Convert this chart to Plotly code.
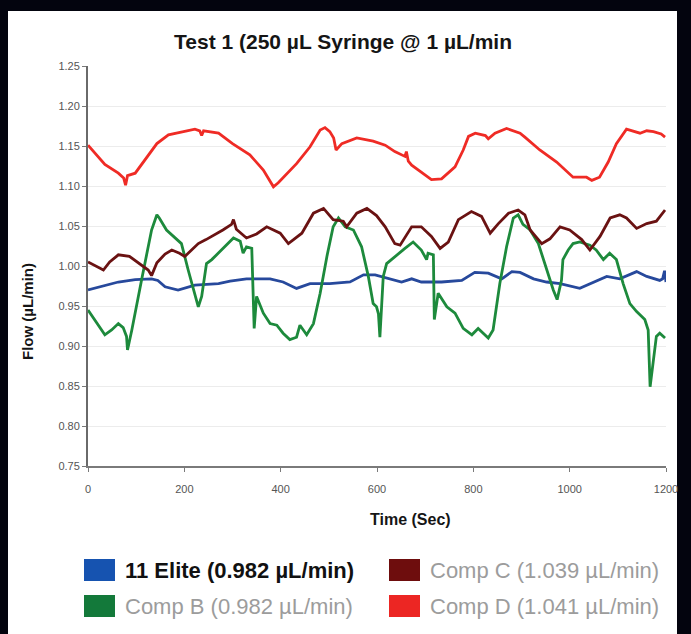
import plotly.graph_objects as go

# ---------------- data ----------------
t_red = [0, 15, 35, 63, 74, 78, 82, 98, 118, 143, 167, 200, 222, 232, 236, 240, 271, 300, 336, 364, 385, 395, 433, 461, 482, 492, 502, 510, 515, 527, 558, 592, 617, 637, 658, 661, 665, 672, 713, 734, 762, 779, 790, 804, 825, 831, 845, 869, 897, 907, 938, 973, 1007, 1035, 1046, 1062, 1080, 1097, 1118, 1146, 1160, 1174, 1190, 1198]
v_red = [1.151, 1.141, 1.127, 1.116, 1.110, 1.101, 1.113, 1.116, 1.132, 1.153, 1.164, 1.168, 1.171, 1.169, 1.163, 1.169, 1.166, 1.153, 1.139, 1.120, 1.099, 1.104, 1.128, 1.149, 1.170, 1.173, 1.168, 1.160, 1.145, 1.153, 1.160, 1.156, 1.151, 1.143, 1.137, 1.143, 1.131, 1.126, 1.108, 1.109, 1.124, 1.145, 1.162, 1.166, 1.163, 1.159, 1.166, 1.172, 1.166, 1.161, 1.145, 1.130, 1.111, 1.111, 1.107, 1.111, 1.130, 1.153, 1.171, 1.166, 1.169, 1.168, 1.165, 1.161]

t_brown = [0, 15, 32, 45, 63, 86, 100, 115, 125, 132, 138, 143, 160, 174, 190, 201, 215, 229, 245, 257, 280, 298, 302, 308, 329, 350, 371, 399, 416, 444, 468, 489, 509, 530, 537, 558, 579, 599, 617, 637, 648, 672, 692, 713, 731, 748, 769, 796, 817, 835, 852, 873, 893, 907, 918, 942, 959, 980, 1000, 1025, 1042, 1063, 1084, 1104, 1118, 1139, 1160, 1180, 1198]
v_brown = [1.005, 1.000, 0.995, 1.005, 1.014, 1.012, 1.006, 0.999, 0.995, 0.988, 0.998, 1.004, 1.015, 1.020, 1.016, 1.012, 1.020, 1.028, 1.033, 1.037, 1.045, 1.052, 1.058, 1.046, 1.035, 1.040, 1.049, 1.041, 1.028, 1.041, 1.066, 1.072, 1.058, 1.056, 1.049, 1.066, 1.072, 1.063, 1.049, 1.028, 1.026, 1.049, 1.049, 1.037, 1.022, 1.030, 1.058, 1.068, 1.062, 1.041, 1.053, 1.066, 1.070, 1.064, 1.045, 1.028, 1.034, 1.049, 1.045, 1.033, 1.020, 1.037, 1.060, 1.064, 1.060, 1.047, 1.053, 1.056, 1.070]

t_blue = [0, 20, 35, 63, 98, 132, 145, 160, 187, 205, 222, 271, 295, 329, 378, 405, 433, 461, 502, 544, 572, 596, 624, 651, 672, 692, 734, 776, 803, 831, 859, 880, 897, 925, 952, 980, 1021, 1049, 1077, 1104, 1139, 1160, 1187, 1193, 1197, 1200]
v_blue = [0.970, 0.973, 0.976, 0.980, 0.983, 0.984, 0.982, 0.974, 0.970, 0.973, 0.976, 0.978, 0.981, 0.984, 0.984, 0.980, 0.972, 0.978, 0.978, 0.980, 0.989, 0.989, 0.984, 0.980, 0.984, 0.980, 0.980, 0.982, 0.992, 0.991, 0.984, 0.993, 0.992, 0.984, 0.980, 0.978, 0.972, 0.980, 0.987, 0.984, 0.993, 0.987, 0.982, 0.984, 0.994, 0.980]

t_green = [0, 14, 35, 49, 63, 73, 80, 82, 86, 91, 111, 132, 143, 148, 163, 177, 194, 208, 222, 229, 236, 246, 257, 284, 302, 316, 322, 329, 340, 345, 350, 364, 378, 392, 405, 419, 433, 440, 454, 468, 482, 496, 509, 520, 534, 551, 568, 582, 592, 599, 603, 606, 613, 620, 637, 658, 675, 692, 703, 706, 717, 719, 727, 745, 762, 779, 797, 810, 831, 841, 855, 869, 883, 893, 903, 918, 935, 952, 966, 974, 983, 986, 997, 1007, 1021, 1042, 1055, 1070, 1083, 1097, 1111, 1125, 1139, 1156, 1163, 1167, 1174, 1180, 1187, 1198]
v_green = [0.945, 0.933, 0.914, 0.920, 0.928, 0.923, 0.912, 0.895, 0.905, 0.920, 0.982, 1.045, 1.064, 1.060, 1.045, 1.037, 1.028, 0.995, 0.966, 0.949, 0.962, 1.003, 1.008, 1.024, 1.035, 1.031, 1.016, 1.024, 1.022, 0.922, 0.962, 0.941, 0.928, 0.926, 0.916, 0.908, 0.911, 0.926, 0.914, 0.928, 0.966, 1.012, 1.049, 1.060, 1.049, 1.045, 1.024, 0.987, 0.953, 0.949, 0.940, 0.911, 0.987, 1.003, 1.012, 1.022, 1.030, 1.020, 1.008, 1.016, 1.014, 0.933, 0.966, 0.949, 0.941, 0.922, 0.914, 0.922, 0.910, 0.920, 0.978, 1.024, 1.060, 1.064, 1.052, 1.045, 1.028, 0.995, 0.970, 0.958, 0.982, 1.008, 1.020, 1.028, 1.030, 1.026, 1.020, 1.008, 1.016, 1.008, 0.978, 0.953, 0.943, 0.933, 0.920, 0.849, 0.887, 0.912, 0.916, 0.910]

x_ticks = [0, 200, 400, 600, 800, 1000, 1200]
y_ticks = [0.75, 0.80, 0.85, 0.90, 0.95, 1.00, 1.05, 1.10, 1.15, 1.20, 1.25]

title_text = "Test 1 (250 µL Syringe @ 1 µL/min"
x_title = "Time (Sec)"
y_title = "Flow (µL/min)"
legend_names = ["11 Elite (0.982 µL/min)", "Comp C (1.039 µL/min)",
                "Comp B (0.982 µL/min)", "Comp D (1.041 µL/min)"]

# ---------------- styling ----------------
W, H = 691, 634
L, R, T, B = 88, 25, 66, 168
PW, PH = W - L - R, H - T - B

def px_x(p):
    return (p - L) / PW

def px_y(p):
    return (H - B - p) / PH

FONT = "Liberation Sans, Arial, sans-serif"
BG = "#03040e"
c_blue, c_brown, c_green, c_red = "#27499c", "#6a1212", "#1d8a3c", "#ef2b25"
lg_blue, lg_brown, lg_green, lg_red = "#1653b0", "#6e0d0d", "#13793a", "#ec2623"

fig = go.Figure()
for tt, vv, col, nm in [(t_blue, v_blue, c_blue, legend_names[0]),
                        (t_green, v_green, c_green, legend_names[2]),
                        (t_brown, v_brown, c_brown, legend_names[1]),
                        (t_red, v_red, c_red, legend_names[3])]:
    fig.add_trace(go.Scatter(x=tt, y=vv, mode="lines", name=nm,
                             line=dict(color=col, width=2.8), showlegend=False,
                             hoverinfo="skip"))

shapes = [dict(type="rect", xref="paper", yref="paper",
               x0=px_x(8), x1=px_x(677), y0=px_y(640), y1=px_y(11),
               fillcolor="white", line=dict(width=0), layer="below")]

annotations = [
    dict(text="<b>" + title_text + "</b>", x=px_x(343), y=px_y(42), xref="paper", yref="paper",
         showarrow=False, font=dict(family=FONT, size=21, color="#151515"),
         xanchor="center", yanchor="middle"),
    dict(text="<b>" + x_title + "</b>", x=px_x(410), y=px_y(519), xref="paper", yref="paper",
         showarrow=False, font=dict(family=FONT, size=16, color="#151515"),
         xanchor="center", yanchor="middle"),
    dict(text="<b>" + y_title + "</b>", x=px_x(27), y=px_y(312), xref="paper", yref="paper",
         showarrow=False, textangle=-90, font=dict(family=FONT, size=15, color="#151515"),
         xanchor="center", yanchor="middle"),
]

legend_items = [
    (legend_names[0], lg_blue, 84, 570, True),
    (legend_names[1], lg_brown, 389, 570, False),
    (legend_names[2], lg_green, 84, 606, False),
    (legend_names[3], lg_red, 389, 606, False),
]
for name, col, x0, yc, bold in legend_items:
    shapes.append(dict(type="rect", xref="paper", yref="paper",
                       x0=px_x(x0), x1=px_x(x0 + 31), y0=px_y(yc + 11), y1=px_y(yc - 11),
                       fillcolor=col, line=dict(width=0)))
    annotations.append(dict(text=("<b>" + name + "</b>") if bold else name,
                            x=px_x(x0 + 39), y=px_y(yc), xref="paper", yref="paper",
                            showarrow=False, xanchor="left", yanchor="middle",
                            font=dict(family=FONT, size=22,
                                      color="#111111" if bold else "#9c9c9c")))

fig.update_layout(
    width=W, height=H, autosize=False,
    margin=dict(l=L, r=R, t=T, b=B, pad=0),
    paper_bgcolor=BG, plot_bgcolor="white",
    shapes=shapes, annotations=annotations, showlegend=False,
    font=dict(family=FONT),
)
fig.update_xaxes(range=[0, 1200], tickvals=x_ticks, ticktext=[str(v) for v in x_ticks],
                 showgrid=False, zeroline=False, showline=True, linecolor="#7a7a7a",
                 linewidth=2, ticks="outside", ticklen=4, tickcolor="#7a7a7a",
                 tickfont=dict(size=11, color="#555555"), ticklabelstandoff=8)
fig.update_yaxes(range=[0.75, 1.25], tickvals=y_ticks, ticktext=[f"{v:.2f}" for v in y_ticks],
                 showgrid=True, gridcolor="#ececec", gridwidth=1, zeroline=False,
                 showline=True, linecolor="#6a6a6a", linewidth=2, ticks="outside",
                 ticklen=4, tickcolor="#7a7a7a", tickfont=dict(size=11, color="#555555"))

fig.write_html("out.html",
               config={"displayModeBar": False},
               post_script="document.body.style.margin='0';"
                           "document.body.style.background='" + BG + "';"
                           "document.body.style.overflow='hidden';")
